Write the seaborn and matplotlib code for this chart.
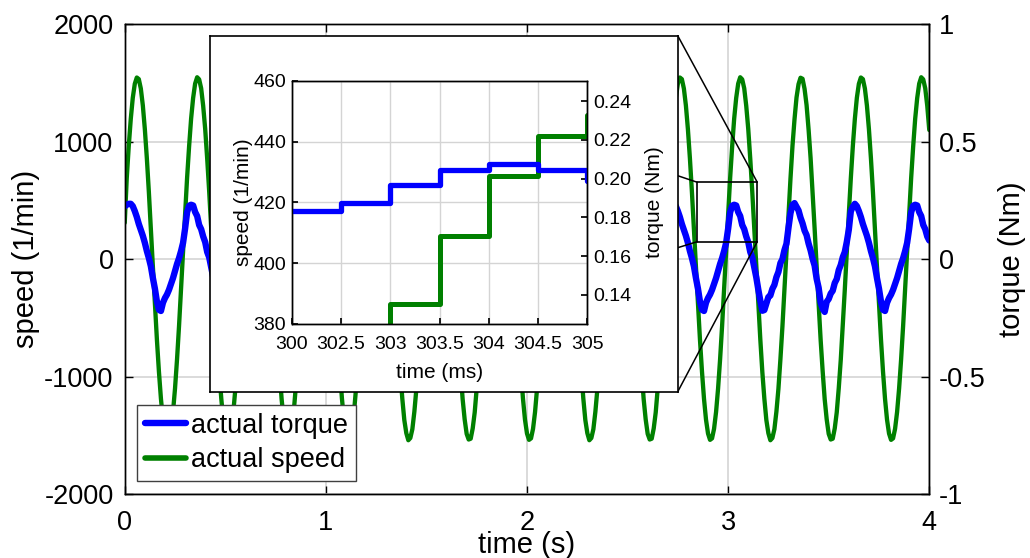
import matplotlib
matplotlib.use("Agg")
import matplotlib.pyplot as plt
from matplotlib.patches import Rectangle, ConnectionPatch
import seaborn as sns
import numpy as np

# sampling grid of the recording (10 ms steps over 4 s)
time_s = np.linspace(0.0, 4.0, 401)

# actual speed (1/min)
speed_rpm = [
    310, 690, 963, 1194, 1374, 1493, 1547, 1533, 1453, 1309, 1107, 858, 571, 259, -65, -383, -685, -956, -1187, -1365, -1483, -1537, -1524, -1443, -1300, -1100, -852, -567, -257, 65,
    385, 692, 960, 1196, 1372, 1495, 1549, 1531, 1455, 1306, 1109, 855, 574, 256, -62, -386, -682, -958, -1185, -1368, -1480, -1540, -1521, -1446, -1297, -1103, -849, -570, -254, 62,
    388, 687, 966, 1191, 1377, 1490, 1545, 1536, 1450, 1312, 1104, 861, 568, 262, -68, -380, -688, -953, -1190, -1362, -1486, -1534, -1527, -1440, -1303, -1097, -855, -564, -260, 68,
    385, 690, 963, 1194, 1374, 1493, 1547, 1533, 1453, 1309, 1107, 858, 571, 259, -65, -383, -685, -956, -1187, -1365, -1483, -1537, -1524, -1443, -1300, -1100, -852, -567, -257, 65,
    385, 692, 960, 1196, 1372, 1495, 1549, 1531, 1455, 1306, 1109, 855, 574, 256, -62, -386, -682, -958, -1185, -1368, -1480, -1540, -1521, -1446, -1297, -1103, -849, -570, -254, 62,
    388, 687, 966, 1191, 1377, 1490, 1545, 1536, 1450, 1312, 1104, 861, 568, 262, -68, -380, -688, -953, -1190, -1362, -1486, -1534, -1527, -1440, -1303, -1097, -855, -564, -260, 68,
    385, 690, 963, 1194, 1374, 1493, 1547, 1533, 1453, 1309, 1107, 858, 571, 259, -65, -383, -685, -956, -1187, -1365, -1483, -1537, -1524, -1443, -1300, -1100, -852, -567, -257, 65,
    385, 692, 960, 1196, 1372, 1495, 1549, 1531, 1455, 1306, 1109, 855, 574, 256, -62, -386, -682, -958, -1185, -1368, -1480, -1540, -1521, -1446, -1297, -1103, -849, -570, -254, 62,
    388, 687, 966, 1191, 1377, 1490, 1545, 1536, 1450, 1312, 1104, 861, 568, 262, -68, -380, -688, -953, -1190, -1362, -1486, -1534, -1527, -1440, -1303, -1097, -855, -564, -260, 68,
    385, 690, 963, 1194, 1374, 1493, 1547, 1533, 1453, 1309, 1107, 858, 571, 259, -65, -383, -685, -956, -1187, -1365, -1483, -1537, -1524, -1443, -1300, -1100, -852, -567, -257, 65,
    385, 692, 960, 1196, 1372, 1495, 1549, 1531, 1455, 1306, 1109, 855, 574, 256, -62, -386, -682, -958, -1185, -1368, -1480, -1540, -1521, -1446, -1297, -1103, -849, -570, -254, 62,
    388, 687, 966, 1191, 1377, 1490, 1545, 1536, 1450, 1312, 1104, 861, 568, 262, -68, -380, -688, -953, -1190, -1362, -1486, -1534, -1527, -1440, -1303, -1097, -855, -564, -260, 68,
    385, 690, 963, 1194, 1374, 1493, 1547, 1533, 1453, 1309, 1107, 858, 571, 259, -65, -383, -685, -956, -1187, -1365, -1483, -1537, -1524, -1443, -1300, -1100, -852, -567, -257, 65,
    385, 692, 960, 1196, 1372, 1495, 1549, 1531, 1455, 1306, 1100,
]

# actual torque (Nm)
torque_nm = [
    0.225, 0.232, 0.236,
    0.236, 0.226, 0.205, 0.180, 0.150, 0.125, 0.100, 0.070, 0.035, 0.005, -0.030, -0.080, -0.125, -0.180, -0.215, -0.220, -0.185, -0.165, -0.150, -0.130, -0.105, -0.080, -0.050, -0.020, 0.005, 0.035, 0.070, 0.130, 0.200, 0.228,
    0.232, 0.229, 0.201, 0.184, 0.146, 0.128, 0.097, 0.073, 0.031, 0.008, -0.034, -0.077, -0.129, -0.176, -0.219, -0.216, -0.189, -0.161, -0.154, -0.126, -0.109, -0.076, -0.054, -0.016, 0.001, 0.039, 0.066, 0.134, 0.196, 0.232,
    0.239, 0.223, 0.208, 0.177, 0.153, 0.122, 0.103, 0.067, 0.038, 0.002, -0.027, -0.083, -0.121, -0.184, -0.211, -0.224, -0.181, -0.169, -0.146, -0.134, -0.101, -0.084, -0.046, -0.024, 0.009, 0.031, 0.074, 0.126, 0.204, 0.224,
    0.236, 0.226, 0.205, 0.180, 0.150, 0.125, 0.100, 0.070, 0.035, 0.005, -0.030, -0.080, -0.125, -0.180, -0.215, -0.220, -0.185, -0.165, -0.150, -0.130, -0.105, -0.080, -0.050, -0.020, 0.005, 0.035, 0.070, 0.130, 0.200, 0.228,
    0.232, 0.229, 0.201, 0.184, 0.146, 0.128, 0.097, 0.073, 0.031, 0.008, -0.034, -0.077, -0.129, -0.176, -0.219, -0.216, -0.189, -0.161, -0.154, -0.126, -0.109, -0.076, -0.054, -0.016, 0.001, 0.039, 0.066, 0.134, 0.196, 0.232,
    0.239, 0.223, 0.208, 0.177, 0.153, 0.122, 0.103, 0.067, 0.038, 0.002, -0.027, -0.083, -0.121, -0.184, -0.211, -0.224, -0.181, -0.169, -0.146, -0.134, -0.101, -0.084, -0.046, -0.024, 0.009, 0.031, 0.074, 0.126, 0.204, 0.224,
    0.236, 0.226, 0.205, 0.180, 0.150, 0.125, 0.100, 0.070, 0.035, 0.005, -0.030, -0.080, -0.125, -0.180, -0.215, -0.220, -0.185, -0.165, -0.150, -0.130, -0.105, -0.080, -0.050, -0.020, 0.005, 0.035, 0.070, 0.130, 0.200, 0.228,
    0.232, 0.229, 0.201, 0.184, 0.146, 0.128, 0.097, 0.073, 0.031, 0.008, -0.034, -0.077, -0.129, -0.176, -0.219, -0.216, -0.189, -0.161, -0.154, -0.126, -0.109, -0.076, -0.054, -0.016, 0.001, 0.039, 0.066, 0.134, 0.196, 0.232,
    0.239, 0.223, 0.208, 0.177, 0.153, 0.122, 0.103, 0.067, 0.038, 0.002, -0.027, -0.083, -0.121, -0.184, -0.211, -0.224, -0.181, -0.169, -0.146, -0.134, -0.101, -0.084, -0.046, -0.024, 0.009, 0.031, 0.074, 0.126, 0.204, 0.224,
    0.236, 0.226, 0.205, 0.180, 0.150, 0.125, 0.100, 0.070, 0.035, 0.005, -0.030, -0.080, -0.125, -0.180, -0.215, -0.220, -0.185, -0.165, -0.150, -0.130, -0.105, -0.080, -0.050, -0.020, 0.005, 0.035, 0.070, 0.130, 0.200, 0.228,
    0.232, 0.229, 0.201, 0.184, 0.146, 0.128, 0.097, 0.073, 0.031, 0.008, -0.034, -0.077, -0.129, -0.176, -0.219, -0.216, -0.189, -0.161, -0.154, -0.126, -0.109, -0.076, -0.054, -0.016, 0.001, 0.039, 0.066, 0.134, 0.196, 0.232,
    0.239, 0.223, 0.208, 0.177, 0.153, 0.122, 0.103, 0.067, 0.038, 0.002, -0.027, -0.083, -0.121, -0.184, -0.211, -0.224, -0.181, -0.169, -0.146, -0.134, -0.101, -0.084, -0.046, -0.024, 0.009, 0.031, 0.074, 0.126, 0.204, 0.224,
    0.236, 0.226, 0.205, 0.180, 0.150, 0.125, 0.100, 0.070, 0.035, 0.005, -0.030, -0.080, -0.125, -0.180, -0.215, -0.220, -0.185, -0.165, -0.150, -0.130, -0.105, -0.080, -0.050, -0.020, 0.005, 0.035, 0.070, 0.130, 0.200, 0.228,
    0.232, 0.229, 0.201, 0.184, 0.146, 0.128, 0.097, 0.080,
]

# zoomed view
inset_time_ms = [302.0, 302.5, 303.0, 303.5, 304.0, 304.5, 305.0]
inset_xticklabels = ["300", "302.5", "303", "303.5", "304", "304.5", "305"]
inset_speed_rpm = [344, 365, 386.7, 408.9, 428.7, 441.9, 448.7]
inset_torque_nm = [0.1835, 0.1876, 0.1969, 0.2046, 0.2077, 0.2043, 0.1990]

time_ticks = [0, 1, 2, 3, 4]
speed_ticks = [-2000, -1000, 0, 1000, 2000]
torque_ticks = [-1, -0.5, 0, 0.5, 1]
torque_ticklabels = ["-1", "-0.5", "0", "0.5", "1"]
inset_speed_ticks = [380, 400, 420, 440, 460]
inset_torque_ticks = [0.14, 0.16, 0.18, 0.20, 0.22, 0.24]

GREEN = "#008000"
BLUE = "#0000ff"
GRID = "#d4d4d4"

sns.set_theme(style="white")
plt.rcParams["font.family"] = ["Liberation Sans", "DejaVu Sans"]
plt.rcParams["axes.unicode_minus"] = False
plt.rcParams["axes.edgecolor"] = "black"
plt.rcParams["text.color"] = "black"
plt.rcParams["axes.labelcolor"] = "black"
plt.rcParams["xtick.color"] = "black"
plt.rcParams["ytick.color"] = "black"

fig = plt.figure(figsize=(10.3, 5.58), dpi=100)

# main plot
ax = fig.add_axes([0.1211, 0.1142, 0.7811, 0.8423])
ax2 = ax.twinx()
sns.lineplot(x=time_s, y=speed_rpm, ax=ax, color=GREEN, lw=3.1, estimator=None)
sns.lineplot(x=time_s, y=torque_nm, ax=ax2, color=BLUE, lw=4.6, estimator=None)

ax.set_xlim(0, 4)
ax.set_ylim(-2000, 2000)
ax2.set_ylim(-1, 1)
ax.set_xticks(time_ticks)
ax.set_yticks(speed_ticks)
ax2.set_yticks(torque_ticks)
ax2.set_yticklabels(torque_ticklabels)
ax.grid(True, color=GRID, lw=1.2)
ax2.grid(False)
ax.tick_params(axis="x", direction="in", length=6, width=1, labelsize=19.5,
               bottom=True, top=True, pad=11.5)
ax.tick_params(axis="y", direction="in", length=6, width=1, labelsize=19.5,
               left=True, right=False, pad=8)
ax2.tick_params(direction="in", length=6, width=1, labelsize=19.5,
                right=True, left=False, pad=7)
for sp in list(ax.spines.values()) + list(ax2.spines.values()):
    sp.set_linewidth(1.0)
    sp.set_color("black")
ax.set_xlabel("time (s)", fontsize=21, labelpad=-4)
ax.set_ylabel("speed (1/min)", fontsize=21, labelpad=3)
ax2.set_ylabel("torque (Nm)", fontsize=21, labelpad=9)

leg = ax2.legend([ax2.lines[0], ax.lines[0]], ["actual torque", "actual speed"],
                 loc="lower left", bbox_to_anchor=(0.015, 0.028), borderaxespad=0,
                 fontsize=19.5, handlelength=1.5, handletextpad=0.2, labelspacing=0.3,
                 borderpad=0.3, fancybox=False, framealpha=1, edgecolor="0.25")
leg.get_frame().set_linewidth(1.0)
leg.legend_handles[1].set_linewidth(4.0)
leg.legend_handles[0].set_linewidth(4.6)

# zoom marker on the main plot
zx0, zx1, zy0, zy1 = 2.847, 3.145, 150, 655
ax2.add_patch(Rectangle((zx0, zy0), zx1 - zx0, zy1 - zy0, transform=ax.transData,
                        fill=False, ec="black", lw=1.2, zorder=6))

# inset frame
fx0, fy0, fw, fh = 0.2039, 0.298, 0.4541, 0.638
frame = fig.add_axes([fx0, fy0, fw, fh], zorder=3)
frame.set_facecolor("white")
frame.set_xticks([])
frame.set_yticks([])
for sp in frame.spines.values():
    sp.set_linewidth(1.2)
    sp.set_color("black")

for (fa, da) in [((fx0 + fw, fy0 + fh), (zx1, zy1)),
                 ((fx0 + fw, fy0), (zx1, zy0)),
                 ((fx0 + fw, 0.6851), (zx0, zy1)),
                 ((fx0 + fw, 0.5561), (zx0, zy0))]:
    cp = ConnectionPatch(xyA=fa, coordsA=fig.transFigure, xyB=da, coordsB=ax.transData,
                         color="black", lw=1.1, zorder=1)
    fig.add_artist(cp)

# inset plot
ins = fig.add_axes([0.2832, 0.4194, 0.287, 0.436], zorder=4)
ins2 = ins.twinx()
sns.lineplot(x=inset_time_ms, y=inset_speed_rpm, ax=ins, color=GREEN, lw=3.6,
             drawstyle="steps-post", estimator=None)
sns.lineplot(x=inset_time_ms, y=inset_torque_nm, ax=ins2, color=BLUE, lw=3.8,
             drawstyle="steps-post", estimator=None)
ins.set_xlim(302, 305)
ins.set_ylim(380, 460)
ins2.set_ylim(0.125, 0.2505)
ins.set_xticks(inset_time_ms)
ins.set_xticklabels(inset_xticklabels)
ins.set_yticks(inset_speed_ticks)
ins2.set_yticks(inset_torque_ticks)
ins2.set_yticklabels([f"{v:.2f}" for v in inset_torque_ticks])
ins.grid(True, color=GRID, lw=1.0)
ins2.grid(False)
ins.tick_params(axis="x", direction="in", length=4, labelsize=14, bottom=True, pad=9)
ins.tick_params(axis="y", direction="in", length=4, labelsize=14, left=True, pad=4)
ins2.tick_params(direction="in", length=4, labelsize=14, right=True, pad=4)
for sp in list(ins.spines.values()) + list(ins2.spines.values()):
    sp.set_linewidth(1.0)
    sp.set_color("black")
ins.set_xlabel("time (ms)", fontsize=15, labelpad=7)
ins.set_ylabel("speed (1/min)", fontsize=15, labelpad=0)
ins2.set_ylabel("torque (Nm)", fontsize=15, labelpad=10)

fig.savefig("out.png", dpi=100)
